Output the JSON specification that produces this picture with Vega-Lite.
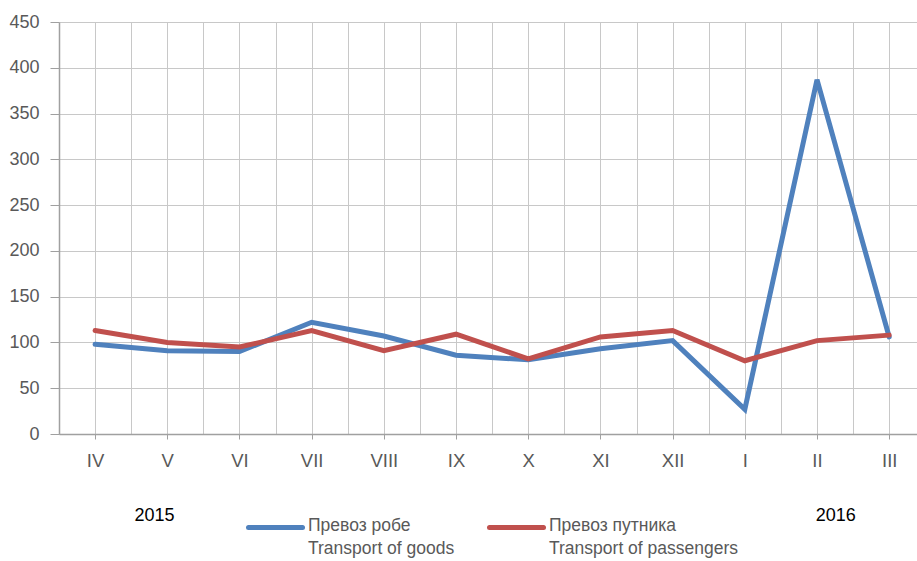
{
  "$schema": "https://vega.github.io/schema/vega-lite/v6.json",
  "width": 858,
  "height": 412,
  "autosize": {"type": "none"},
  "padding": {"left": 59, "top": 22, "right": 0, "bottom": 127},
  "config": {
    "view": {"stroke": null},
    "font": "Liberation Sans"
  },
  "resolve": {"axis": {"x": "independent"}},
  "layer": [
    {
      "data": {
        "values": [
          {"month": "IV", "i": 0, "series": "Превоз робе|Transport of goods", "value": 98},
          {"month": "V", "i": 1, "series": "Превоз робе|Transport of goods", "value": 91},
          {"month": "VI", "i": 2, "series": "Превоз робе|Transport of goods", "value": 90},
          {"month": "VII", "i": 3, "series": "Превоз робе|Transport of goods", "value": 122},
          {"month": "VIII", "i": 4, "series": "Превоз робе|Transport of goods", "value": 107},
          {"month": "IX", "i": 5, "series": "Превоз робе|Transport of goods", "value": 86},
          {"month": "X", "i": 6, "series": "Превоз робе|Transport of goods", "value": 81},
          {"month": "XI", "i": 7, "series": "Превоз робе|Transport of goods", "value": 93},
          {"month": "XII", "i": 8, "series": "Превоз робе|Transport of goods", "value": 102},
          {"month": "I", "i": 9, "series": "Превоз робе|Transport of goods", "value": 27},
          {"month": "II", "i": 10, "series": "Превоз робе|Transport of goods", "value": 387},
          {"month": "III", "i": 11, "series": "Превоз робе|Transport of goods", "value": 106},
          {"month": "IV", "i": 0, "series": "Превоз путника|Transport of passengers", "value": 113},
          {"month": "V", "i": 1, "series": "Превоз путника|Transport of passengers", "value": 100},
          {"month": "VI", "i": 2, "series": "Превоз путника|Transport of passengers", "value": 95},
          {"month": "VII", "i": 3, "series": "Превоз путника|Transport of passengers", "value": 113},
          {"month": "VIII", "i": 4, "series": "Превоз путника|Transport of passengers", "value": 91},
          {"month": "IX", "i": 5, "series": "Превоз путника|Transport of passengers", "value": 109},
          {"month": "X", "i": 6, "series": "Превоз путника|Transport of passengers", "value": 82},
          {"month": "XI", "i": 7, "series": "Превоз путника|Transport of passengers", "value": 106},
          {"month": "XII", "i": 8, "series": "Превоз путника|Transport of passengers", "value": 113},
          {"month": "I", "i": 9, "series": "Превоз путника|Transport of passengers", "value": 80},
          {"month": "II", "i": 10, "series": "Превоз путника|Transport of passengers", "value": 102},
          {"month": "III", "i": 11, "series": "Превоз путника|Transport of passengers", "value": 108}
        ]
      },
      "mark": {"type": "line", "strokeWidth": 5, "strokeCap": "round"},
      "encoding": {
        "x": {
          "field": "i",
          "type": "quantitative",
          "scale": {"domain": [-0.5, 11.385], "nice": false, "zero": false},
          "axis": {
            "title": null,
            "values": [0, 1, 2, 3, 4, 5, 6, 7, 8, 9, 10, 11],
            "labelExpr": "['IV','V','VI','VII','VIII','IX','X','XI','XII','I','II','III'][datum.value]",
            "grid": false,
            "domainColor": "#a0a0a0",
            "domainWidth": 1.5,
            "tickColor": "#a0a0a0",
            "tickSize": 5,
            "labelFontSize": 18.5,
            "labelColor": "#595959",
            "labelPadding": 12,
            "labelFlush": false,
            "labelOverlap": false,
            "zindex": 1
          }
        },
        "y": {
          "field": "value",
          "type": "quantitative",
          "scale": {"domain": [0, 450], "nice": false},
          "axis": {
            "title": null,
            "values": [0, 50, 100, 150, 200, 250, 300, 350, 400, 450],
            "grid": true,
            "gridColor": "#c8c8c8",
            "domainColor": "#a0a0a0",
            "domainWidth": 1.5,
            "tickColor": "#a0a0a0",
            "tickSize": 9,
            "labelPadding": 11,
            "labelFontSize": 18,
            "labelColor": "#595959",
            "labelFlush": false
          }
        },
        "color": {
          "field": "series",
          "type": "nominal",
          "scale": {
            "domain": ["Превоз робе|Transport of goods", "Превоз путника|Transport of passengers"],
            "range": ["#4f81bd", "#c0504d"]
          },
          "legend": {
            "orient": "none",
            "legendX": 187,
            "legendY": 476,
            "direction": "horizontal",
            "columns": 2,
            "title": null,
            "symbolType": "stroke",
            "symbolSize": 2916,
            "symbolStrokeWidth": 5,
            "labelFontSize": 17.5,
            "labelColor": "#595959",
            "labelExpr": "split(datum.label, '|')",
            "labelOffset": 3,
            "labelLimit": 400,
            "columnPadding": 24,
            "labelBaseline": "top",
            "encode": {
              "labels": {"update": {"lineHeight": {"value": 23}, "dy": {"value": -11}}},
              "symbols": {"update": {"strokeCap": {"value": "round"}}}
            }
          }
        }
      }
    },
    {
      "data": {
        "values": [
          {"year": "2015", "pos": 0.824, "v": -90},
          {"year": "2016", "pos": 10.26, "v": -90}
        ]
      },
      "mark": {"type": "text", "fontSize": 18, "color": "#000000"},
      "encoding": {
        "x": {
          "field": "pos",
          "type": "quantitative",
          "axis": {
            "title": null,
            "values": [-0.5, 0, 0.5, 1, 1.5, 2, 2.5, 3, 3.5, 4, 4.5, 5, 5.5, 6, 6.5, 7, 7.5, 8, 8.5, 9, 9.5, 10, 10.5, 11],
            "grid": true,
            "gridColor": "#c8c8c8",
            "gridWidth": 1,
            "labels": false,
            "ticks": false,
            "domain": false,
            "zindex": 0
          }
        },
        "y": {"field": "v", "type": "quantitative"},
        "text": {"field": "year"}
      }
    }
  ]
}
